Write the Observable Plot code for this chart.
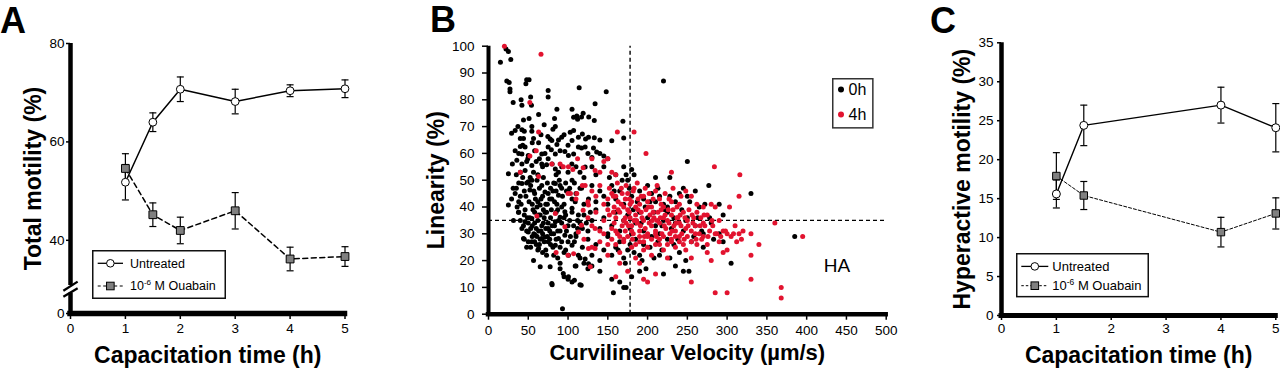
<!DOCTYPE html>
<html><head><meta charset="utf-8">
<script src="https://cdn.jsdelivr.net/npm/d3@7"></script>
<script src="https://cdn.jsdelivr.net/npm/@observablehq/plot@0.6"></script>
<style>
body{margin:0;background:#fff;font-family:"Liberation Sans",Arial,sans-serif;}
#wrap{position:relative;width:1280px;height:372px;overflow:hidden;background:#fff}
.panel{position:absolute;top:0}
.letter{position:absolute;font-weight:bold;font-size:36px;line-height:40px;color:#000}
.lg{position:absolute;overflow:visible}
</style></head><body><div id="wrap"></div><script>
// ---------- Data ----------
const timesA = [1, 1.5, 2, 3, 4, 5];
const untreatedA = [51.8, 64.0, 70.7, 68.2, 70.4, 70.8];
const untreatedAErr = [3.6, 1.9, 2.5, 2.5, 1.2, 1.8];
const ouabainA = [54.6, 45.2, 42.0, 46.0, 36.2, 36.7];
const ouabainAErr = [3.0, 2.4, 2.7, 3.7, 2.4, 2.0];

const timesC = [1, 1.5, 4, 5];
const untreatedC = [15.6, 24.4, 27.0, 24.1];
const untreatedCErr = [1.8, 2.6, 2.3, 3.1];
const ouabainC = [17.9, 15.4, 10.7, 13.1];
const ouabainCErr = [3.0, 1.8, 1.9, 2.0];

const xTicksA = [0, 1, 2, 3, 4, 5];
const yTicksA = [0, 40, 60, 80];
const yTicksC = [0, 5, 10, 15, 20, 25, 30, 35];
const xTicksB = [0, 50, 100, 150, 200, 250, 300, 350, 400, 450, 500];
const yTicksB = [0, 10, 20, 30, 40, 50, 60, 70, 80, 90, 100];
const thresholdVCL = [178];
const thresholdLIN = [35];
const haLabel = [{x: 438, y: 18, text: "HA"}];
const seriesNames = ["Untreated", "10-6 M Ouabain"];
const scatterNames = ["0h", "4h"];

// Curvilinear velocity (µm/s), linearity (%) per sperm
const black0h = [
[15,94],[22,99],[25,98],[28,95],[23,87],[26,86.5],[27,84],[27,83],[31,79],[41,80],[42,78],[48,87.5],[51,87.5],[47,86],[53,81],[54,78],[63,74.5],[75,83.5],[75,81],[86,76.5],[83,73],[105,76.5],[114,84.5],[148,83],[134,78.5],[119,75],[107,73.5],[111,74],[112,72.7],[117,73.6],[126,73.6],[133,72.3],[44,72.5],[51,73],[54.5,70],[70,70.7],[84,70],[169,72],[220,87],
[29,67.5],[33.5,68.5],[42,68.8],[45,68.3],[54.5,68.3],[56.6,65.6],[40,65.6],[44,65.6],[74.6,66.3],[77.5,65.4],[79.6,64.8],[88,65],[92,66],[102.7,67.9],[107,68.5],[113,66],[118,67.2],[122,65.4],[125.7,66],[133,65.8],[86,63.3],[105,64.8],[33.5,61],[40,62.6],[46,62.4],[42,59.8],[50,59.2],[63,64],[67,59.8],[75,62.4],[79,61.4],[84,59.8],[90,61],[96,60.7],[100.5,59.2],[107,59.8],[113,62.4],[121.5,62.4],[130,58.5],[136,60.5],[155,64.7],[170,65.7],[140,60],[132,62],
[30,56],[35.6,57.4],[42,56],[49.4,58],[54.5,55.5],[40,53],[46,53.6],[56.6,53],[67,56],[73,55.8],[84,54.2],[88,53],[104.8,56],[115,53],[121.5,54.9],[25,52.4],[52.4,51],[54.5,50],[60,57],[75,58],[80,56],[92,55],[100,53],[110,55],[130,55],[135,52],[150,58],[160,52],[170,55],[173,52],[180,54],[183,52],[210,51],[250,57],[228,51],[62,52],[68,55],[85,52],[105,50],[120,51],[145,55],
[31,47],[33.5,45],[29,43],[25,40.7],[42,48.8],[50,49.4],[52,46.3],[59,43],[65,40.7],[67,48],[71,45.6],[84,48.8],[92,47],[79.6,43],[88,44.4],[100.5,45.6],[109,42],[117,47],[125.7,43],[35,47],[38,42],[40,44],[45,46],[48,49],[55,41],[58,45],[62,42],[68,44],[72,41],[75,45],[78,47],[82,49],[85,46],[90,48],[95,41],[98,46],[105,43],[110,45],[115,47],[120,41],[130,48],[135,42],[140,46],[145,44],[150,41],[155,48],[160,43],[165,46],[170,41],[175,50],[180,44],[190,46],[195,43],[200,48],[205,45],[210,42],[215,44],[220,41],[225,40],[235,42],[240,45],[245,47],[250,44],[260,46],[265,40],[277,48],[290,41],[330,45],[152,51],[158,46],[168,50],[177,47],[187,42],[203,42],[213,47],[228,44],[253,42],[272,41],
[71,38],[63,37],[54.5,35.7],[46,34.5],[42,32],[50,30.7],[59,29.5],[31.4,35],[37.7,38],[75,32],[84,34.5],[71,28.8],[88,28.2],[96,29.5],[90,36.2],[96,38.2],[105,39.5],[113,37],[38,38],[40,35],[45,37],[48,31],[50,34],[52,36],[55,33],[57,30],[58,38],[60,32],[62,35],[63,31],[65,37],[67,33],[68,30],[70,36],[72,32],[73,38],[75,34],[77,31],[78,36],[80,33],[82,30],[85,38],[88,35],[90,31],[95,36],[100,33],[105,38],[110,30],[115,34],[120,37],[125,31],[130,35],[135,39],[140,32],[145,36],[150,30],[155,33],[160,38],[165,31],[170,35],[175,37],[178,32],[180,30],[185,34],[190,38],[195,31],[200,36],[210,33],[215,30],[220,35],[225,38],[230,32],[235,34],[245,31],[250,36],[260,33],[270,30],[280,34],[295,37],[385,29],[182,39],[192,34],[197,40],[208,38],[218,33],[222,39],[233,36],[243,39],[248,35],[263,36],[268,31],[278,36],[290,30],
[67,28.2],[75,27],[84,25.7],[44,28.2],[54.5,27],[63,24.5],[56.6,20],[105,25.7],[113,22],[121.5,20.6],[100.5,22],[45,28],[48,25],[50,27],[55,29],[60,26],[62,24],[65,28],[70,27],[72,24],[78,26],[82,22],[85,28],[90,25],[95,23],[100,27],[110,29],[115,21],[118,25],[125,28],[130,22],[135,26],[140,20],[145,24],[150,29],[155,22],[160,25],[165,27],[170,21],[175,24],[185,28],[190,22],[195,26],[205,29],[215,22],[225,28],[240,23],[255,27],[270,25],[295,27],[238,28],[258,29],[283,28],[163,24],[178,26],[183,23],[203,25],[208,21],[213,27],[218,24],[228,21],[233,26],[248,20],
[65,17.7],[77.5,17.7],[79.6,11.5],[90,19],[94,15.2],[100.5,14],[108,12.7],[116.5,10.8],[93,2],[125.7,18.8],[109,18],[80,11],[90,17],[95,14],[100,13],[105,12],[110,18],[115,11],[120,19],[125,17],[140,16],[155,13],[157,8],[165,12],[170,10],[173,10],[180,14],[190,16],[220,15],[245,16],[235,18],[305,19],[130,18],[172,19],[193,20],[198,17],[252,16],
[35,52],[38,49],[43,51],[47,44],[53,48],[57,46],[61,50],[64,47],[69,51],[74,49],[77,43],[81,46],[86,41],[89,50],[93,44],[97,49],[102,47],[108,49],[36,40],[41,41],[46,39],[51,42],[56,39],[61,40],[66,43],[69,39],[74,41],[79,39],[83,42],[87,39],[92,40],[97,37],[102,35],[107,33],[112,35],[118,32],[123,34],[128,38],[44,33],[49,36],[53,32],[58,34],[61,29],[66,31],[69,34],[74,29],[79,30],[83,33],[87,31],[92,34],[98,31],[103,29],[108,27],[112,32],[53,25],[58,27],[64,26],[68,23],[73,22],[77,28],[81,25],[87,21],[92,27],[97,24],[38,60],[43,63],[48,57],[58,61],[64,58],[71,60],[37,70],[55,64],[66,67],[81,69],[95,67],[100,63],[117,62],[125,60],[140,65],[145,59]
];
const red4h = [
[20,100],[66,97],[52,79],[63,68],[162,68],[183,68],[198,60],[60,61],[40,53],[52,59],[112,58],[79.6,56],[94,55],[100.5,55],[119,54.6],[130,58],[134,53.6],[63,51.4],[90,56],[106,54],[140,53],[145,57],[150,58],[155,53],[160,52],[230,53],[284,55],[316,52],[60.8,36.6],[84,37.6],[96,32.6],[103,45],[111,45],[113,30.7],[117,33.2],[125.7,40.7],[125.7,24.5],[134,32],[121.5,48],[107,22.6],[128,17.7],[134,24.5],[119,38.8],
[100,45],[110,43],[118,48],[125,42],[130,46],[135,44],[140,48],[145,41],[150,43],[155,45],[158,40],[160,44],[163,42],[167,47],[170,40],[172,43],[175,45],[178,41],[180,42],[183,47],[185,40],[188,43],[190,41],[195,44],[200,42],[205,40],[210,46],[215,43],[220,40],[230,42],[240,41],[248,46],[255,44],[262,41],[270,40],[280,41],[285,40],[303,40],[315,44],[152,47],[157,44],[162,49],[168,45],[173,48],[177,43],[182,46],[187,49],[192,44],[197,47],[202,45],[207,43],[212,48],[217,41],[222,45],[227,43],[232,47],[237,40],[242,44],
[125,36],[130,33],[135,38],[140,31],[145,35],[150,39],[155,32],[160,36],[162,30],[165,38],[168,33],[170,35],[172,31],[175,39],[178,36],[180,33],[182,30],[185,37],[187,34],[190,31],[192,38],[195,35],[197,32],[200,30],[203,37],[205,33],[208,36],[210,31],[213,38],[215,34],[218,30],[220,36],[223,32],[225,35],[228,30],[230,37],[233,33],[235,31],[238,36],[240,34],[243,30],[245,38],[248,32],[250,35],[255,31],[258,36],[260,33],[265,30],[270,34],[275,37],[278,31],[282,33],[287,30],[290,35],[295,31],[300,30],[305,29],[310,33],[315,30],[320,31],[330,30],[360,34],[395,29],[152,37],[158,34],[163,39],[173,34],[177,38],[183,35],[188,39],[193,36],[198,39],[202,34],[207,38],[212,35],[217,39],[222,37],[227,34],[232,39],[237,36],[242,33],[247,36],[252,39],[257,34],[262,38],[267,36],[272,33],
[85,23],[100,22],[120,28],[130,25],[140,27],[150,22],[160,26],[165,23],[170,28],[180,25],[185,21],[190,27],[195,24],[200,29],[205,22],[210,26],[215,28],[220,24],[225,21],[230,27],[235,25],[240,29],[248,24],[255,21],[262,26],[268,28],[275,23],[280,20],[290,27],[295,23],[300,24],[340,26],[330,22],[155,28],[160,31],[165,29],[170,27],[175,29],[180,31],[185,26],[190,29],[195,27],[200,25],[205,28],[210,30],[215,26],[220,29],[225,26],[230,28],[235,29],[240,27],[245,26],[250,29],[255,27],[260,30],[270,29],[275,26],[285,30],[292,29],[298,31],[308,30],[312,27],[318,28],
[160,14],[175,16],[195,13],[200,12],[210,15],[255,12],[285,8],[300,8],[330,13],[368,10],[368,6],[190,19],[165,19],
[145,30],[150,26],[157,38],[167,41],[172,36],[176,33],[181,28],[186,35],[191,33],[196,29],[201,40],[206,35],[211,29],[216,36],[221,33],[226,39],[231,31],[236,34],[241,37],[246,28],[251,33],[256,37],[261,28],[266,33],[271,37],[276,29],[281,35]
];

// ---------- Helpers ----------
const FONT = '"Liberation Sans", Arial, Helvetica, sans-serif';
const RED = "#e2132f";
const GRAY = "#808080";
const wrap = document.getElementById("wrap");
const rows = (xs, vs, es) => xs.map((x, i) => ({x, v: vs[i], e: es[i]}));
const capSymbol = {draw(ctx) { ctx.moveTo(-3.5, 0); ctx.lineTo(3.5, 0); }};

function seriesMarks(data, {dash, lineW}) {
  return [
    Plot.ruleX(data, {x: "x", y1: d => d.v - d.e, y2: d => d.v + d.e, stroke: "#000", strokeWidth: 1.2}),
    Plot.dot(data, {x: "x", y: d => d.v + d.e, symbol: capSymbol, stroke: "#000", strokeWidth: 1.2, fill: "none"}),
    Plot.dot(data, {x: "x", y: d => d.v - d.e, symbol: capSymbol, stroke: "#000", strokeWidth: 1.2, fill: "none"}),
    Plot.line(data, {x: "x", y: "v", stroke: "#000", strokeWidth: lineW, strokeDasharray: dash})
  ];
}
function markerMarks(data, marker, r) {
  return Plot.dot(data, {x: "x", y: "v", symbol: marker, r, fill: marker === "circle" ? "#fff" : GRAY, stroke: "#000", strokeWidth: 1});
}
function place(node, left) {
  node.classList.add("panel");
  node.style.left = left + "px";
  wrap.appendChild(node);
}
function letter(txt, left, top) {
  const d = document.createElement("div");
  d.className = "letter"; d.textContent = txt;
  d.style.left = left + "px"; d.style.top = top + "px";
  wrap.appendChild(d);
}
function seriesLegend(left, top, w, h, rowY, symX0, symX1, textX, fs, dashes, lw) {
  const mid = (symX0 + symX1) / 2;
  const s = `<svg class="lg" width="${w}" height="${h}" style="left:${left}px;top:${top}px" font-family='${FONT}'>
  <rect x="0.75" y="0.75" width="${w - 1.5}" height="${h - 1.5}" fill="#fff" stroke="#111" stroke-width="1.5"/>
  <line x1="${symX0}" x2="${symX1}" y1="${rowY[0]}" y2="${rowY[0]}" stroke="#000" stroke-width="${lw[0]}"/>
  <circle cx="${mid}" cy="${rowY[0]}" r="3.8" fill="#fff" stroke="#000"/>
  <line x1="${symX0}" x2="${symX1}" y1="${rowY[1]}" y2="${rowY[1]}" stroke="#000" stroke-width="${lw[1]}" stroke-dasharray="${dashes}"/>
  <rect x="${mid - 3.8}" y="${rowY[1] - 3.8}" width="7.6" height="7.6" fill="${GRAY}" stroke="#000"/>
  <text x="${textX}" y="${rowY[0]}" dy="0.35em" font-size="${fs}">${seriesNames[0]}</text>
  <text x="${textX}" y="${rowY[1]}" dy="0.35em" font-size="${fs}">10<tspan dy="-5" font-size="${fs * 0.65}">-6</tspan><tspan dy="5"> M Ouabain</tspan></text>
  </svg>`;
  wrap.insertAdjacentHTML("beforeend", s);
}

const baseStyle = {fontFamily: FONT, fontSize: "13.5px", color: "#000", background: "none", overflow: "visible"};
const axisLabel = {fontSize: 23, fontWeight: "bold", fill: "#000"};

// ---------- Panel A ----------
const dataUA = rows(timesA, untreatedA, untreatedAErr);
const dataOA = rows(timesA, ouabainA, ouabainAErr);
const plotA = Plot.plot({
  width: 360, height: 372,
  marginLeft: 70, marginRight: 15.5, marginTop: 43, marginBottom: 59,
  style: baseStyle,
  x: {domain: [0, 5], axis: null},
  y: {type: "linear", domain: [0, 30, 80], range: [313, 289, 43], axis: null},
  marks: [
    Plot.axisX(xTicksA, {tickSize: 6, tickPadding: 4, strokeWidth: 1.5, label: null, fontSize: 13.5}),
    Plot.axisY(yTicksA, {tickSize: 4, tickPadding: 2, strokeWidth: 1.5, label: null, fontSize: 13.5}),
    Plot.ruleY([0], {x1: 0, x2: 5, strokeWidth: 5.5, strokeLinecap: "square"}),
    Plot.ruleX([0], {y1: 0, y2: 25.5, strokeWidth: 4.5}),
    Plot.ruleX([0], {y1: 30.8, y2: 80, strokeWidth: 4.5}),
    Plot.link([{a: 28.5, b: 31.6}, {a: 21, b: 30.25}], {x1: -0.13, x2: 0.13, y1: "a", y2: "b", stroke: "#000", strokeWidth: 2.3}),
    ...seriesMarks(dataOA, {dash: "5,3.5", lineW: 1.5}),
    ...seriesMarks(dataUA, {dash: null, lineW: 1.5}),
    markerMarks(dataUA, "circle", 3.9),
    markerMarks(dataOA, "square", 4.4),
    Plot.text(["Capacitation time (h)"], {text: d => d, frameAnchor: "bottom", lineAnchor: "bottom", dy: 49, ...axisLabel}),
    Plot.text(["Total motility (%)"], {text: d => d, frameAnchor: "left", rotate: -90, textAnchor: "middle", lineAnchor: "middle", dx: -37, ...axisLabel})
  ]
});
place(plotA, 0);

// ---------- Panel B ----------
const ptsB0 = black0h.map(([x, y]) => ({x, y}));
const ptsB4 = red4h.map(([x, y]) => ({x, y}));
const plotB = Plot.plot({
  width: 480, height: 372,
  marginLeft: 68, marginRight: 14.3, marginTop: 45.7, marginBottom: 58.3,
  style: baseStyle,
  x: {domain: [0, 500], axis: null},
  y: {domain: [0, 100], axis: null},
  marks: [
    Plot.axisX(xTicksB, {tickSize: 6, tickPadding: 5, strokeWidth: 1.5, label: null, fontSize: 13.5}),
    Plot.axisY(yTicksB, {tickSize: 6, tickPadding: 8, strokeWidth: 1.5, label: null, fontSize: 13.5}),
    Plot.ruleY(thresholdLIN, {x1: 0, x2: 500, stroke: "#000", strokeWidth: 1.4, strokeDasharray: "4,3"}),
    Plot.ruleX(thresholdVCL, {y1: 0, y2: 100, stroke: "#000", strokeWidth: 1.4, strokeDasharray: "4,3"}),
    Plot.dot(ptsB0, {x: "x", y: "y", r: 2.5, fill: "#000"}),
    Plot.dot(ptsB4, {x: "x", y: "y", r: 2.5, fill: RED}),
    Plot.ruleY([0], {x1: 0, x2: 500, strokeWidth: 4.5, strokeLinecap: "square"}),
    Plot.ruleX([0], {y1: 0, y2: 100, strokeWidth: 4}),
    Plot.text(haLabel, {x: "x", y: "y", text: "text", fontSize: 19, fill: "#000"}),
    Plot.text(["Curvilinear Velocity (µm/s)"], {text: d => d, frameAnchor: "bottom", lineAnchor: "bottom", dy: 46, ...axisLabel, fontSize: 22}),
    Plot.text(["Linearity (%)"], {text: d => d, frameAnchor: "left", rotate: -90, textAnchor: "middle", lineAnchor: "middle", dx: -52, ...axisLabel})
  ]
});
place(plotB, 420);

// ---------- Panel C ----------
const dataUC = rows(timesC, untreatedC, untreatedCErr);
const dataOC = rows(timesC, ouabainC, ouabainCErr);
const plotC = Plot.plot({
  width: 360, height: 372,
  marginLeft: 81, marginRight: 4.7, marginTop: 42.3, marginBottom: 57,
  style: {...baseStyle, overflow: "hidden"},
  x: {domain: [0, 5], axis: null},
  y: {domain: [0, 35], axis: null},
  marks: [
    Plot.axisX(xTicksA, {tickSize: 5, tickPadding: 3, strokeWidth: 1.5, label: null, fontSize: 13.5}),
    Plot.axisY(yTicksC, {tickSize: 4, tickPadding: 4, strokeWidth: 1.5, label: null, fontSize: 13.5}),
    Plot.ruleY([0], {x1: 0, x2: 5, strokeWidth: 5, strokeLinecap: "square"}),
    Plot.ruleX([0], {y1: 0, y2: 35, strokeWidth: 4.5}),
    ...seriesMarks(dataOC, {dash: "3,2", lineW: 1}),
    ...seriesMarks(dataUC, {dash: null, lineW: 1.4}),
    markerMarks(dataUC, "circle", 4),
    markerMarks(dataOC, "square", 4.2),
    Plot.text(["Capacitation time (h)"], {text: d => d, frameAnchor: "bottom", lineAnchor: "bottom", dy: 47, ...axisLabel}),
    Plot.text(["Hyperactive motility (%)"], {text: d => d, frameAnchor: "left", rotate: -90, textAnchor: "middle", lineAnchor: "middle", dx: -39, ...axisLabel})
  ]
});
place(plotC, 920);

// ---------- Legends & letters ----------
seriesLegend(92, 250, 134, 49, [13.3, 36], 5.7, 31, 38, 12.5, "3,2.5", [1.3, 1.2]);
seriesLegend(1015.7, 253.3, 133, 44.4, [13.4, 32.7], 5.3, 32.3, 36.3, 13, "2.5,2", [1.3, 1]);
wrap.insertAdjacentHTML("beforeend",
  `<svg class="lg" width="42" height="51" style="left:831.7px;top:77.7px" font-family='${FONT}'>
   <rect x="0.75" y="0.75" width="40.1" height="49.1" fill="#fff" stroke="#333" stroke-width="1.5"/>
   <circle cx="9" cy="11.6" r="3" fill="#000"/>
   <circle cx="9" cy="36.6" r="3" fill="${RED}"/>
   <text x="16.5" y="11.6" dy="0.36em" font-size="16">${scatterNames[0]}</text>
   <text x="16.5" y="36.6" dy="0.36em" font-size="16">${scatterNames[1]}</text>
  </svg>`);
letter("A", 0, 0.5);
letter("B", 430, 0);
letter("C", 930, 0.5);
</script></body></html>
